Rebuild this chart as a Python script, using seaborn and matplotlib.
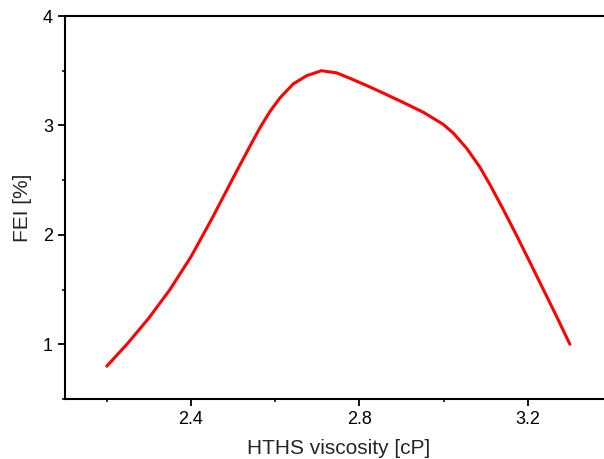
import numpy as np
import matplotlib.pyplot as plt
import seaborn as sns
from matplotlib.ticker import MultipleLocator

sns.set_style("ticks")
plt.rcParams['font.family'] = ['Liberation Sans', 'DejaVu Sans']

# values
hths = [2.200, 2.250, 2.300, 2.350, 2.400, 2.450, 2.500, 2.540, 2.564, 2.588,
        2.611, 2.643, 2.675, 2.710, 2.746, 2.778, 2.817, 2.857, 2.904, 2.952,
        2.999, 3.023, 3.055, 3.086, 3.110, 3.142, 3.174, 3.205, 3.237, 3.269,
        3.300]
fei = [0.80, 1.01, 1.24, 1.50, 1.80, 2.15, 2.52, 2.81, 2.98, 3.13,
       3.25, 3.38, 3.455, 3.50, 3.48, 3.43, 3.365, 3.295, 3.21, 3.12,
       3.01, 2.93, 2.79, 2.62, 2.46, 2.23, 1.99, 1.75, 1.50, 1.25,
       1.00]

fig = plt.figure(figsize=(6.04, 4.59), dpi=100)
# axes runs off the right edge, like the cropped original
ax = fig.add_axes([64.7 / 604, 60 / 459, 547.3 / 604, 383 / 459])

sns.lineplot(x=hths, y=fei, ax=ax, color="#ff0000", linewidth=2.2)

ax.set_xlim(2.1, 3.4)
ax.set_ylim(0.5, 4)
ax.xaxis.set_minor_locator(MultipleLocator(0.2))
ax.set_xticks([2.4, 2.8, 3.2])
ax.set_xticklabels(["2.4", "2.8", "3.2"])
ax.yaxis.set_major_locator(MultipleLocator(1))
ax.yaxis.set_minor_locator(MultipleLocator(0.5))

ax.spines['right'].set_visible(False)
for s in ['left', 'bottom', 'top']:
    ax.spines[s].set_linewidth(1.5)
    ax.spines[s].set_color("black")

ax.tick_params(which='major', direction='out', length=5, width=1.3,
               labelsize=13, pad=3.5, colors='black')
ax.tick_params(which='minor', direction='out', length=2.5, width=1.3)
ax.tick_params(top=False, right=False, which='both')

ax.set_xlabel("HTHS viscosity [cP]", fontsize=15)
ax.set_ylabel("FEI [%]", fontsize=15)
ax.xaxis.set_label_coords(0.5, -0.104)
ax.yaxis.set_label_coords(-0.06, 0.5)

fig.savefig("out.png", dpi=100)
